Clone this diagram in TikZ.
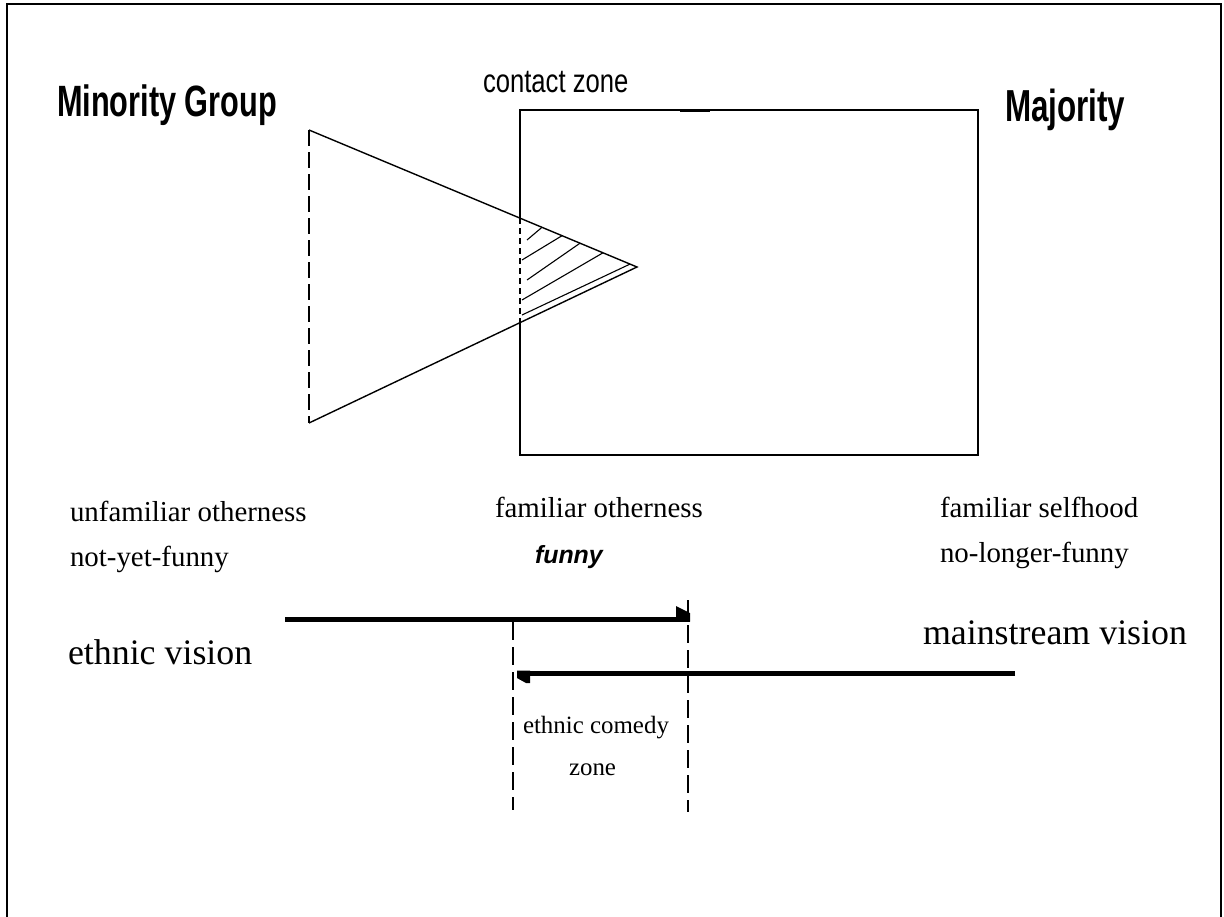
\documentclass[tikz,border=0pt]{standalone}
\usepackage{fontspec}
\setmainfont{Liberation Serif}
\newfontfamily\condsans[FakeStretch=0.70]{Liberation Sans Bold}
\newfontfamily\lightcond[FakeStretch=0.78]{Liberation Sans}
\newfontfamily\plainsans{Liberation Sans}
\begin{document}
\begin{tikzpicture}[x=1bp,y=-1bp,
  edge/.style={line width=1.4bp},
  zonedash/.style={line width=1.6bp, dash pattern=on 18bp off 7bp},
  tridash/.style={line width=1.4bp, dash pattern=on 16bp off 6bp},
  finedash/.style={line width=1.4bp, dash pattern=on 6bp off 4bp},
  hatch/.style={line width=1.1bp},
  bigline/.style={line width=5bp},
  txt/.style={anchor=base west, inner sep=0pt, outer sep=0pt},
  head/.style={txt, font=\condsans\fontsize{44}{48}\selectfont},
  serifsmall/.style={txt, font=\fontsize{29}{32}\selectfont},
  seriflarge/.style={txt, font=\fontsize{36}{40}\selectfont},
  zonetext/.style={txt, font=\fontsize{25}{28}\selectfont}]
\useasboundingbox (0,0) rectangle (1224,917);
% frame
\draw[line width=2.5bp] (7,917) -- (7,4) -- (1221,4) -- (1221,917);
% headings
\node[head] (minority) at (57,116) {Minority Group};
\node[head, font=\condsans\fontsize{45}{48}\selectfont] (majority) at (1005,121) {Majority};
\node[txt, font=\lightcond\fontsize{33}{36}\selectfont] (contact) at (483,92) {contact zone};
% rectangle (majority)
\coordinate (r1) at (520,110);
\coordinate (r2) at (978,110);
\coordinate (r3) at (978,455);
\coordinate (r4) at (520,455);
\coordinate (ru) at (520,218.2);
\coordinate (rl) at (520,322.6);
\draw[edge] (ru) -- (r1) -- (r2) -- (r3) -- (r4) -- (rl);
\draw[finedash] (ru) -- (rl);
\draw[line width=3bp] (680,110) -- (710,110);
% triangle (minority)
\coordinate (t1) at (309,130);
\coordinate (t2) at (309,423);
\coordinate (ta) at (637,267);
\draw[edge] (t1) -- (ta) -- (t2);
\draw[tridash] (t1) -- (t2);
% hatching
\draw[hatch] (527,240) -- (542,227.3);
\draw[hatch] (522,260) -- (562,235.7);
\draw[hatch] (527,280) -- (580,243.2);
\draw[hatch] (522,300) -- (603,252.8);
\draw[hatch] (522,315) -- (630,264.1);
% labels
\node[serifsmall] (unfam) at (70,521) {unfamiliar otherness};
\node[serifsmall] (notyet) at (70,566) {not-yet-funny};
\node[serifsmall] (famoth) at (495,517) {familiar otherness};
\node[txt, font=\plainsans\bfseries\itshape\fontsize{25}{28}\selectfont] (funny) at (535,563) {funny};
\node[serifsmall] (famself) at (940,517) {familiar selfhood};
\node[serifsmall] (nolonger) at (940,562) {no-longer-funny};
\node[seriflarge] (ethvis) at (68,664) {ethnic vision};
\node[seriflarge] (mainvis) at (923,644) {mainstream vision};
\node[zonetext] (comedy) at (523,733) {ethnic comedy};
\node[zonetext] (zone) at (569,775) {zone};
% arrows
\coordinate (ea) at (285,619);
\coordinate (eb) at (690,619);
\coordinate (ma) at (1015,673);
\coordinate (mb) at (517,673);
\draw[bigline] (ea) -- (eb);
\fill (eb) ++(0,2.5) -- ++(-14,0) -- ++(0,-15.5) -- ++(14,7) -- cycle;
\draw[bigline] (ma) -- (mb);
\fill (mb) ++(0,-2.5) -- ++(13,0) -- ++(0,12.5) -- ++(-4,0) -- ++(-9,-5) -- cycle;
% comedy zone borders
\coordinate (zl1) at (513,622);
\coordinate (zl2) at (513,810);
\coordinate (zr1) at (688,600);
\coordinate (zr2) at (688,812);
\draw[zonedash] (zl1) -- (zl2);
\draw[zonedash] (zr1) -- (zr2);
\end{tikzpicture}
\end{document}
